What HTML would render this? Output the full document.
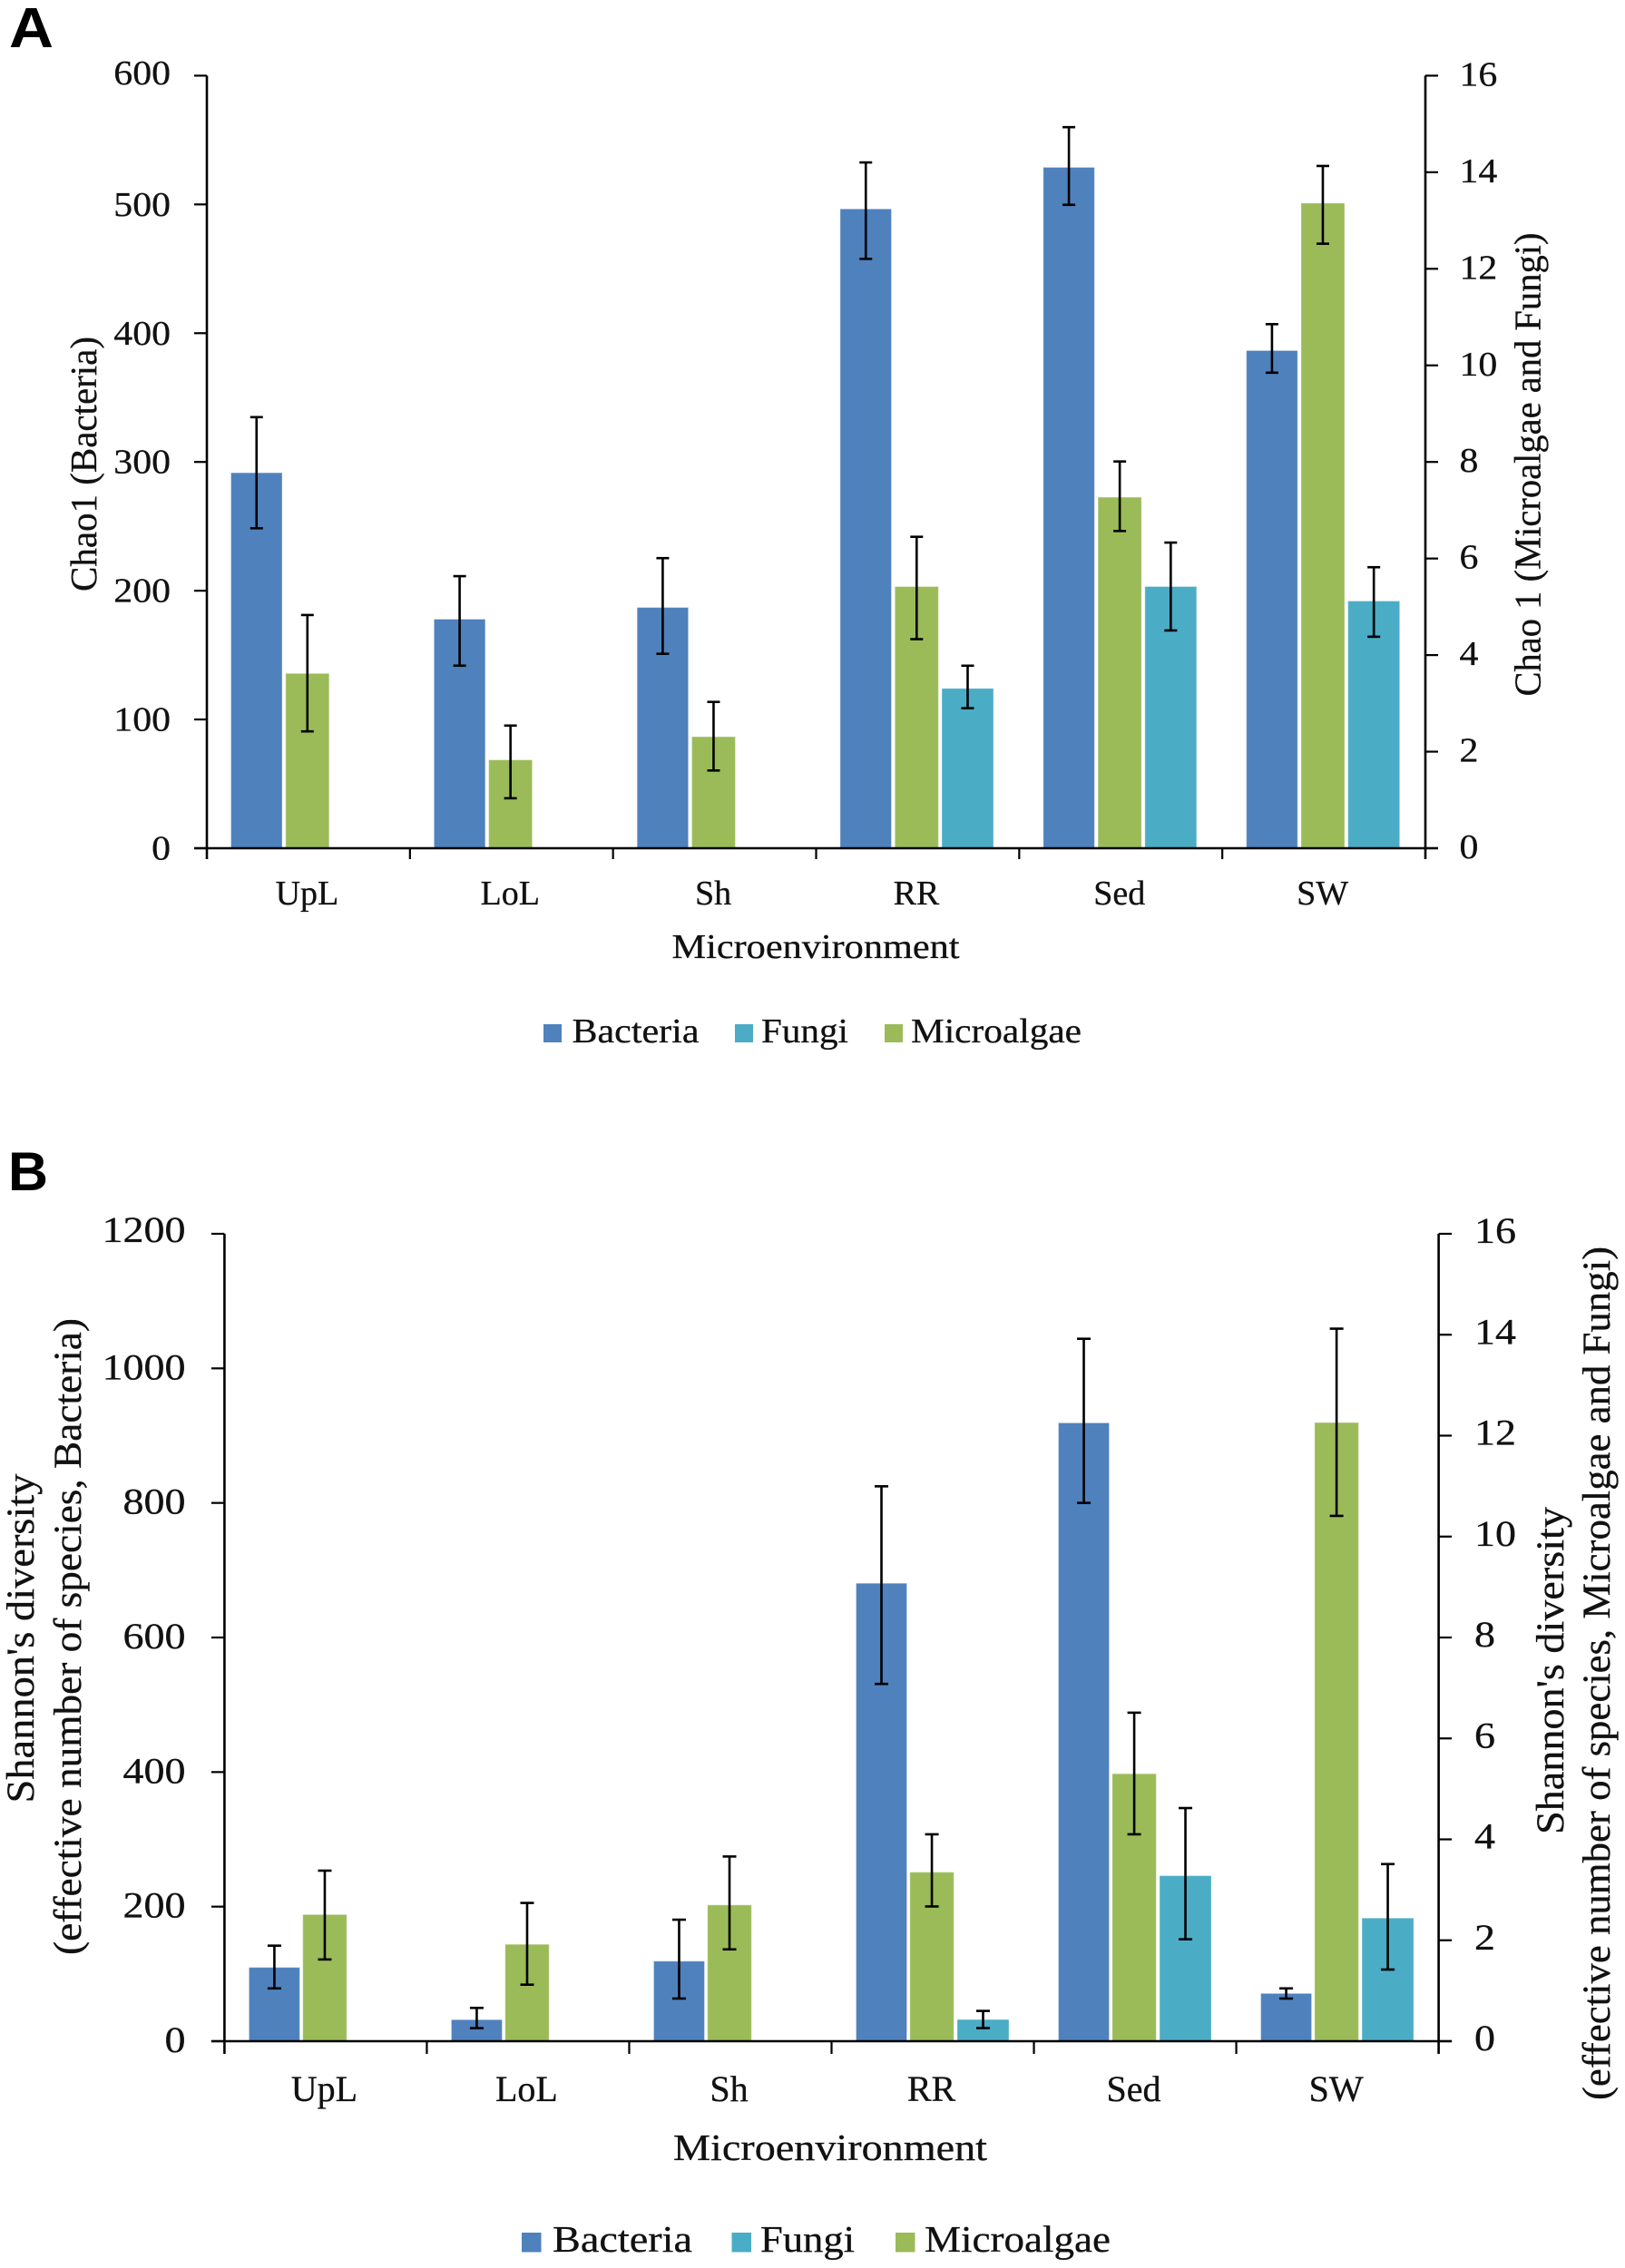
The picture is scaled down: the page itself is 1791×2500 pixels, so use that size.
<!DOCTYPE html>
<html lang="en">
<head>
<meta charset="utf-8">
<title>Chao1 and Shannon diversity by microenvironment</title>
<style>
html,body{margin:0;padding:0;background:#fff;}
body{width:1791px;height:2500px;overflow:hidden;}
svg{display:block;}
text{font-family:"Liberation Serif","DejaVu Serif",serif;fill:#111;stroke:#111;stroke-width:0.3px;}
.letter{font-family:"Liberation Sans",Arial,sans-serif;font-weight:bold;fill:#000;stroke:none;}
</style>
</head>
<body>
<svg id="figure" xmlns="http://www.w3.org/2000/svg" width="1791" height="2500" viewBox="0 0 1791 2500">
  <rect width="1791" height="2500" fill="#fff"/>

  <text class="letter" x="10" y="52" font-size="62" textLength="49" lengthAdjust="spacingAndGlyphs">A</text>
  <g id="panelA"></g>
  <text transform="translate(106,511.5) rotate(-90)" text-anchor="middle" font-size="41" textLength="281" lengthAdjust="spacingAndGlyphs">Chao1 (Bacteria)</text>
  <text transform="translate(1697.5,512) rotate(-90)" text-anchor="middle" font-size="41" textLength="511" lengthAdjust="spacingAndGlyphs">Chao 1 (Microalgae and Fungi)</text>
  <text x="899" y="1056" text-anchor="middle" font-size="38" textLength="317" lengthAdjust="spacingAndGlyphs">Microenvironment</text>
  <g>
    <rect x="599" y="1129" width="20" height="20" fill="#4F81BD"/>
    <text x="630.5" y="1149" font-size="38" textLength="140" lengthAdjust="spacingAndGlyphs">Bacteria</text>
    <rect x="810" y="1129" width="20" height="20" fill="#4BACC6"/>
    <text x="839" y="1149" font-size="38" textLength="96" lengthAdjust="spacingAndGlyphs">Fungi</text>
    <rect x="975" y="1129" width="20" height="20" fill="#9BBB59"/>
    <text x="1004" y="1149" font-size="38" textLength="188" lengthAdjust="spacingAndGlyphs">Microalgae</text>
  </g>

  <text class="letter" x="9" y="1312" font-size="60" textLength="44" lengthAdjust="spacingAndGlyphs">B</text>
  <g id="panelB"></g>
  <text transform="translate(37,1806) rotate(-90)" text-anchor="middle" font-size="43" textLength="363" lengthAdjust="spacingAndGlyphs">Shannon's diversity</text>
  <text transform="translate(89,1804) rotate(-90)" text-anchor="middle" font-size="43" textLength="702" lengthAdjust="spacingAndGlyphs">(effective number of species, Bacteria)</text>
  <text transform="translate(1723,1841.5) rotate(-90)" text-anchor="middle" font-size="43" textLength="361" lengthAdjust="spacingAndGlyphs">Shannon's diversity</text>
  <text transform="translate(1774,1844.5) rotate(-90)" text-anchor="middle" font-size="43" textLength="941" lengthAdjust="spacingAndGlyphs">(effective number of species, Microalgae and Fungi)</text>
  <text x="915" y="2381" text-anchor="middle" font-size="41" textLength="346" lengthAdjust="spacingAndGlyphs">Microenvironment</text>
  <g>
    <rect x="575" y="2461" width="21.5" height="21.5" fill="#4F81BD"/>
    <text x="609" y="2482" font-size="41" textLength="154" lengthAdjust="spacingAndGlyphs">Bacteria</text>
    <rect x="806.5" y="2461" width="21.5" height="21.5" fill="#4BACC6"/>
    <text x="838" y="2482" font-size="41" textLength="104" lengthAdjust="spacingAndGlyphs">Fungi</text>
    <rect x="987" y="2461" width="21.5" height="21.5" fill="#9BBB59"/>
    <text x="1019" y="2482" font-size="41" textLength="205" lengthAdjust="spacingAndGlyphs">Microalgae</text>
  </g>
</svg>

<script>
// ---------- data ----------
const categories = ['UpL', 'LoL', 'Sh', 'RR', 'Sed', 'SW'];

const chaoLeftTicks = [0, 100, 200, 300, 400, 500, 600];
const chaoRightTicks = [0, 2, 4, 6, 8, 10, 12, 14, 16];
const chaoBacteria = [291.6, 177.9, 187, 496.5, 528.8, 386.5];
const chaoBacteriaUpper = [334.8, 211.3, 225.3, 532.6, 560, 407];
const chaoBacteriaLower = [248.5, 141.8, 151, 457.7, 499.7, 369.3];
const chaoMicroalgae = [3.62, 1.83, 2.31, 5.42, 7.27, 13.36];
const chaoMicroalgaeUpper = [4.83, 2.54, 3.03, 6.45, 8.01, 14.13];
const chaoMicroalgaeLower = [2.42, 1.035, 1.61, 4.33, 6.57, 12.52];
const chaoFungi = [null, null, null, 3.31, 5.42, 5.12];
const chaoFungiUpper = [null, null, null, 3.78, 6.33, 5.82];
const chaoFungiLower = [null, null, null, 2.90, 4.51, 4.38];

const shannonLeftTicks = [0, 200, 400, 600, 800, 1000, 1200];
const shannonRightTicks = [0, 2, 4, 6, 8, 10, 12, 14, 16];
const shannonBacteria = [109.7, 32, 119, 680.6, 919, 71];
const shannonBacteriaUpper = [142, 49.5, 180.6, 824.7, 1044, 78.5];
const shannonBacteriaLower = [78.5, 19.4, 63.4, 531, 800, 63.4];
const shannonMicroalgae = [2.51, 1.92, 2.70, 3.35, 5.30, 12.26];
const shannonMicroalgaeUpper = [3.38, 2.74, 3.66, 4.10, 6.51, 14.12];
const shannonMicroalgaeLower = [1.62, 1.12, 1.82, 2.67, 4.10, 10.41];
const shannonFungi = [null, null, null, 0.43, 3.28, 2.44];
const shannonFungiUpper = [null, null, null, 0.60, 4.62, 3.51];
const shannonFungiLower = [null, null, null, 0.26, 2.02, 1.42];

// ---------- drawing ----------
const SVGNS = 'http://www.w3.org/2000/svg';

function make(parent, tag, attrs, name) {
  const el = document.createElementNS(SVGNS, tag);
  for (const k in attrs) el.setAttribute(k, attrs[k]);
  
  
  parent.appendChild(el);
  return el;
}

function line(parent, x1, y1, x2, y2, width, name) {
  return make(parent, 'line', {x1: x1, y1: y1, x2: x2, y2: y2, stroke: '#000', 'stroke-width': width}, name);
}

function drawPanel(root, g, prefix) {
  const plotW = g.right - g.left;
  const band = plotW / categories.length;
  const yLeft = v => g.base - (v / g.leftMax) * (g.base - g.top);
  const yRight = v => g.base - (v / g.rightMax) * (g.base - g.top);

  // bars + error bars
  g.series.forEach(s => {
    const y = s.axis === 'left' ? yLeft : yRight;
    s.values.forEach((v, i) => {
      if (v === null) return;
      const x = g.left + band * i + s.offset;
      const key = prefix + '-' + s.key + '-' + categories[i].toLowerCase();
      make(root, 'rect', {
        x: x, y: y(v), width: s.width, height: g.base - y(v),
        fill: s.color, stroke: 'rgba(255,255,255,0.35)', 'stroke-width': 1
      }, 'bar-' + key);
      const cx = x + s.width / 2;
      const eb = make(root, 'g', {}, 'error-bar-' + key);
      line(eb, cx, y(s.upper[i]), cx, y(s.lower[i]), 2.6, 'error-stem-' + key);
      line(eb, cx - g.cap, y(s.upper[i]), cx + g.cap, y(s.upper[i]), 2.6, 'error-cap-upper-' + key);
      line(eb, cx - g.cap, y(s.lower[i]), cx + g.cap, y(s.lower[i]), 2.6, 'error-cap-lower-' + key);
    });
  });

  // axis lines
  line(root, g.left, g.top, g.left, g.base + g.tickDown, 2.6, prefix + '-left-y-axis');
  line(root, g.right, g.top, g.right, g.base + g.tickDown, 2.6, prefix + '-right-y-axis');
  line(root, g.left - g.tickSide, g.base, g.right + g.tickSide, g.base, 2.6, prefix + '-x-axis');

  // left ticks
  g.leftTicks.forEach(t => {
    line(root, g.left - g.tickSide, yLeft(t), g.left, yLeft(t), 2.2, prefix + '-left-tick-' + t);
    const s = String(t);
    const nudge = t === g.leftMax ? g.topNudge : 0;
    const lab = make(root, 'text', {
      x: g.leftLabelX, y: yLeft(t) + g.labelDy + nudge, 'text-anchor': 'end', 'font-size': g.font,
      textLength: s.length * g.digit, lengthAdjust: 'spacingAndGlyphs'
    }, prefix + '-left-tick-label-' + t);
    lab.textContent = s;
  });

  // right ticks
  g.rightTicks.forEach(t => {
    line(root, g.right, yRight(t), g.right + g.tickSide, yRight(t), 2.2, prefix + '-right-tick-' + t);
    const s = String(t);
    const lab = make(root, 'text', {
      x: g.rightLabelX, y: yRight(t) + g.rightDy, 'font-size': g.font,
      textLength: s.length * g.digit, lengthAdjust: 'spacingAndGlyphs'
    }, prefix + '-right-tick-label-' + t);
    lab.textContent = s;
  });

  // category ticks + labels
  for (let i = 1; i < categories.length; i++) {
    const x = g.left + band * i;
    line(root, x, g.base, x, g.base + g.tickDown, 2.2, prefix + '-category-tick-' + i);
  }
  categories.forEach((c, i) => {
    const lab = make(root, 'text', {
      x: g.left + band * (i + 0.5) + g.catShift, y: g.catY, 'text-anchor': 'middle', 'font-size': g.font
    }, prefix + '-category-label-' + c.toLowerCase());
    lab.textContent = c;
  });
}

drawPanel(document.getElementById('panelA'), {
  left: 228, right: 1571, top: 83.4, base: 935,
  leftMax: 600, rightMax: 16,
  leftTicks: chaoLeftTicks, rightTicks: chaoRightTicks,
  tickSide: 14, tickDown: 12, cap: 7,
  font: 38, digit: 20.9, labelDy: 12.5, rightDy: 11, topNudge: -3,
  leftLabelX: 188, rightLabelX: 1608.5, catY: 997, catShift: -1.5,
  series: [
    {key: 'bacteria', axis: 'left', color: '#4F81BD', offset: 26.5, width: 56.5, values: chaoBacteria, upper: chaoBacteriaUpper, lower: chaoBacteriaLower},
    {key: 'microalgae', axis: 'right', color: '#9BBB59', offset: 86.8, width: 48, values: chaoMicroalgae, upper: chaoMicroalgaeUpper, lower: chaoMicroalgaeLower},
    {key: 'fungi', axis: 'right', color: '#4BACC6', offset: 138.5, width: 57, values: chaoFungi, upper: chaoFungiUpper, lower: chaoFungiLower}
  ]
}, 'chao1');

drawPanel(document.getElementById('panelB'), {
  left: 247.4, right: 1585.6, top: 1360, base: 2250,
  leftMax: 1200, rightMax: 16,
  leftTicks: shannonLeftTicks, rightTicks: shannonRightTicks,
  tickSide: 14.5, tickDown: 14, cap: 7.5,
  font: 40, digit: 23, labelDy: 12, rightDy: 10, topNudge: -3,
  leftLabelX: 204.5, rightLabelX: 1625, catY: 2316, catShift: -1.5,
  series: [
    {key: 'bacteria', axis: 'left', color: '#4F81BD', offset: 27, width: 56, values: shannonBacteria, upper: shannonBacteriaUpper, lower: shannonBacteriaLower},
    {key: 'microalgae', axis: 'right', color: '#9BBB59', offset: 86.3, width: 48.5, values: shannonMicroalgae, upper: shannonMicroalgaeUpper, lower: shannonMicroalgaeLower},
    {key: 'fungi', axis: 'right', color: '#4BACC6', offset: 138.5, width: 57, values: shannonFungi, upper: shannonFungiUpper, lower: shannonFungiLower}
  ]
}, 'shannon');
</script>
</body>
</html>
